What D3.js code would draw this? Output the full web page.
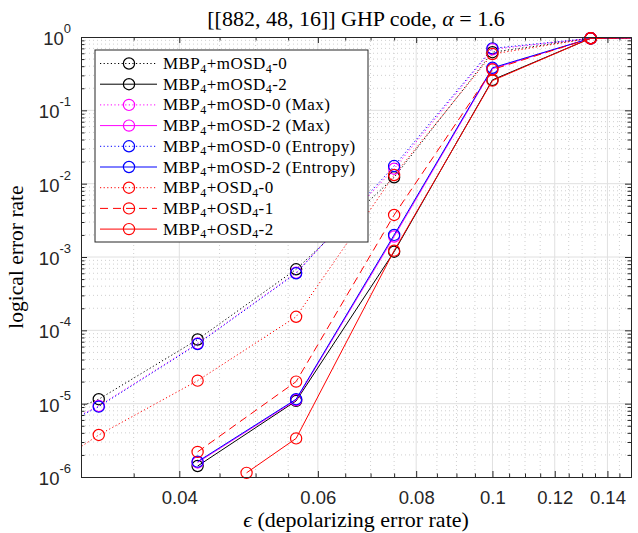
<!DOCTYPE html>
<html>
<head>
<meta charset="utf-8">
<script src="https://cdn.jsdelivr.net/npm/d3@7"></script>
<style>
  html, body { margin: 0; padding: 0; background: #fff; }
  svg { display: block; }
</style>
</head>
<body>
<div id="chart"></div>
<script>
// depolarizing error rates (grid used by most curves)
var epsGrid = [0.0237, 0.0316, 0.0422, 0.0563, 0.0750, 0.1000, 0.1333, 0.1778];
// logical error rates, one list per decoder (null = not simulated)
var mOSD0  = [3.3e-6, 1.15e-5, 7.5e-5, 6.8e-4, 1.22e-2, 0.62, 0.96, 1.0];
var mOSD2  = [null, null, 1.41e-6, 1.09e-5, 1.18e-3, 0.26, 0.96, 1.0];
var maxOSD0 = [2.0e-6, 9.3e-6, 6.6e-5, 6.1e-4, 1.6e-2, 0.68, 0.96, 1.0];
var maxOSD2 = [null, null, 1.58e-6, 1.12e-5, 1.9e-3, 0.37, 0.96, 1.0];
var entOSD0 = [1.9e-6, 9.1e-6, 6.5e-5, 6.0e-4, 1.74e-2, 0.70, 0.96, 1.0];
var entOSD2 = [null, null, 1.62e-6, 1.15e-5, 2.0e-3, 0.38, 0.96, 1.0];
var osd0   = [4.9e-7, 3.74e-6, 2.06e-5, 1.53e-4, 1.31e-2, 0.586, 0.96, 1.0];
var osd1   = [null, null, 2.2e-6, 2.0e-5, 3.74e-3, 0.36, 0.96, 1.0];
// OSD4-2 was run on its own grid
var osd2Eps = [0.0487, 0.0563, 0.0750, 0.1000, 0.1333, 0.1778];
var osd2    = [1.14e-6, 3.36e-6, 1.22e-3, 0.254, 0.96, 1.0];

var xTicks = [0.04, 0.06, 0.08, 0.1, 0.12, 0.14];
var yDecades = [1e-6, 1e-5, 1e-4, 1e-3, 1e-2, 1e-1, 1];
var titleText = "[[882, 48, 16]] GHP code, ";

var W = 638, H = 533;
var margin = { left: 81, right: 7, top: 37, bottom: 56 };
var pw = W - margin.left - margin.right;
var ph = H - margin.top - margin.bottom;

var dash = { dot: "1.2,2.4", solid: null, dash: "8,5" };

// legend label: main text + "4" subscripts
var series = [
  { eps: epsGrid, v: mOSD0,  color: "#000000", style: "dot",   label: [["MBP",""],["4","s"],["+mOSD",""],["4","s"],["-0",""]] },
  { eps: epsGrid, v: mOSD2,  color: "#000000", style: "solid", label: [["MBP",""],["4","s"],["+mOSD",""],["4","s"],["-2",""]] },
  { eps: epsGrid, v: maxOSD0, color: "#ff00ff", style: "dot",   label: [["MBP",""],["4","s"],["+mOSD-0 (Max)",""]] },
  { eps: epsGrid, v: maxOSD2, color: "#ff00ff", style: "solid", label: [["MBP",""],["4","s"],["+mOSD-2 (Max)",""]] },
  { eps: epsGrid, v: entOSD0, color: "#0000ff", style: "dot",   label: [["MBP",""],["4","s"],["+mOSD-0 (Entropy)",""]] },
  { eps: epsGrid, v: entOSD2, color: "#0000ff", style: "solid", label: [["MBP",""],["4","s"],["+mOSD-2 (Entropy)",""]] },
  { eps: epsGrid, v: osd0,   color: "#ff0000", style: "dot",   label: [["MBP",""],["4","s"],["+OSD",""],["4","s"],["-0",""]] },
  { eps: epsGrid, v: osd1,   color: "#ff0000", style: "dash",  label: [["MBP",""],["4","s"],["+OSD",""],["4","s"],["-1",""]] },
  { eps: osd2Eps, v: osd2,   color: "#ff0000", style: "solid", label: [["MBP",""],["4","s"],["+OSD",""],["4","s"],["-2",""]] }
];

var svg = d3.select("#chart").append("svg")
    .attr("width", W).attr("height", H);

var g = svg.append("g")
    .attr("transform", "translate(" + margin.left + "," + margin.top + ")");

var x = d3.scaleLog().domain([0.03, 0.15]).range([0, pw]);
var y = d3.scaleLog().domain([1e-6, 1]).range([ph, 0]);

// minor tick values
var xMinor = d3.range(7, 31).map(function(k) { return k * 0.005; })
    .filter(function(v) { return v > 0.03 && v < 0.15 && xTicks.every(function(t) { return Math.abs(t - v) > 1e-9; }); });
var yMinor = [];
for (var e = -6; e < 0; e++) {
  for (var m = 2; m <= 9; m++) yMinor.push(m * Math.pow(10, e));
}

// grid: minor dotted, major solid
g.append("g").selectAll("line").data(xMinor).enter().append("line")
    .attr("x1", x).attr("x2", x).attr("y1", 0).attr("y2", ph)
    .attr("stroke", "#cfcfcf").attr("stroke-dasharray", "1,3").attr("stroke-width", 1);
g.append("g").selectAll("line").data(yMinor).enter().append("line")
    .attr("y1", y).attr("y2", y).attr("x1", 0).attr("x2", pw)
    .attr("stroke", "#cfcfcf").attr("stroke-dasharray", "1,3").attr("stroke-width", 1);
g.append("g").selectAll("line").data(xTicks).enter().append("line")
    .attr("x1", x).attr("x2", x).attr("y1", 0).attr("y2", ph)
    .attr("stroke", "#e0e0e0").attr("stroke-width", 1);
g.append("g").selectAll("line").data(yDecades.slice(1, 6)).enter().append("line")
    .attr("y1", y).attr("y2", y).attr("x1", 0).attr("x2", pw)
    .attr("stroke", "#e0e0e0").attr("stroke-width", 1);

// data lines, clipped to the axes
svg.append("defs").append("clipPath").attr("id", "plotclip")
  .append("rect").attr("width", pw).attr("height", ph);

var lineGen = d3.line()
    .defined(function(d) { return d.v != null; })
    .x(function(d) { return x(d.e); })
    .y(function(d) { return y(d.v); });

var plotG = g.append("g");
series.forEach(function(s) {
  var pts = s.eps.map(function(e, i) { return { e: e, v: s.v[i] }; });
  plotG.append("path")
      .datum(pts)
      .attr("clip-path", "url(#plotclip)")
      .attr("d", lineGen)
      .attr("fill", "none")
      .attr("stroke", s.color)
      .attr("stroke-width", 1)
      .attr("stroke-dasharray", dash[s.style]);
  // markers are not clipped (MATLAB style), only points inside the x range
  plotG.selectAll(null)
      .data(pts.filter(function(d) { return d.v != null && d.e >= 0.03 && d.e <= 0.15 && d.v >= 1e-6; }))
      .enter().append("circle")
      .attr("cx", function(d) { return x(d.e); })
      .attr("cy", function(d) { return y(d.v); })
      .attr("r", 5.6)
      .attr("fill", "none")
      .attr("stroke", s.color)
      .attr("stroke-width", 1.2);
});

// axes (ticks pointing inwards, on all four sides)
var axisColor = "#262626";
function styleAxis(sel) {
  sel.select(".domain").attr("stroke", axisColor);
  sel.selectAll(".tick line").attr("stroke", axisColor);
  sel.selectAll("text").attr("fill", axisColor)
      .style("font-family", "'Liberation Sans', Arial, Helvetica, sans-serif")
      .style("font-size", "18.5px");
}

var xb = g.append("g").attr("transform", "translate(0," + ph + ")")
    .call(d3.axisBottom(x).tickValues(xTicks).tickSize(-6).tickSizeOuter(0)
      .tickPadding(14).tickFormat(d3.format(".2~f")));
styleAxis(xb);
g.append("g").attr("transform", "translate(0," + ph + ")")
    .call(d3.axisBottom(x).tickValues(xMinor).tickSize(-3.5).tickSizeOuter(0).tickFormat(""))
    .call(styleAxis);
g.append("g")
    .call(d3.axisTop(x).tickValues(xTicks).tickSize(-6).tickSizeOuter(0).tickFormat(""))
    .call(styleAxis);
g.append("g")
    .call(d3.axisTop(x).tickValues(xMinor).tickSize(-3.5).tickSizeOuter(0).tickFormat(""))
    .call(styleAxis);

g.append("g")
    .call(d3.axisLeft(y).tickValues(yDecades).tickSize(-6).tickSizeOuter(0).tickFormat(""))
    .call(styleAxis);
g.append("g")
    .call(d3.axisLeft(y).tickValues(yMinor).tickSize(-3.5).tickSizeOuter(0).tickFormat(""))
    .call(styleAxis);
g.append("g").attr("transform", "translate(" + pw + ",0)")
    .call(d3.axisRight(y).tickValues(yDecades).tickSize(-6).tickSizeOuter(0).tickFormat(""))
    .call(styleAxis);
g.append("g").attr("transform", "translate(" + pw + ",0)")
    .call(d3.axisRight(y).tickValues(yMinor).tickSize(-3.5).tickSizeOuter(0).tickFormat(""))
    .call(styleAxis);

// y tick labels 10^k
var yl = g.append("g").selectAll("text").data(yDecades).enter().append("text")
    .attr("x", -10)
    .attr("y", function(d) { return y(d) + 8; })
    .attr("text-anchor", "end")
    .attr("fill", axisColor)
    .style("font-family", "'Liberation Sans', Arial, Helvetica, sans-serif")
    .style("font-size", "18.5px");
yl.append("tspan").text("10");
yl.append("tspan")
    .attr("dy", -12)
    .style("font-size", "13px")
    .text(function(d) { return String(Math.round(Math.log10(d))); });

var serif = "'Liberation Serif', 'Times New Roman', serif";

// title
var t = svg.append("text")
    .attr("x", margin.left + pw / 2).attr("y", 26)
    .attr("text-anchor", "middle")
    .style("font-family", serif).style("font-size", "22px").attr("fill", "#000");
t.append("tspan").text(titleText);
t.append("tspan").style("font-style", "italic").text("\u03B1");
t.append("tspan").text(" = 1.6");

// axis labels
var xl = svg.append("text")
    .attr("x", margin.left + pw / 2).attr("y", 527)
    .attr("text-anchor", "middle")
    .style("font-family", serif).style("font-size", "22px").attr("fill", "#000");
xl.append("tspan").style("font-style", "italic").text("\u03F5");
xl.append("tspan").text(" (depolarizing error rate)");

svg.append("text")
    .attr("transform", "translate(23," + (margin.top + ph / 2) + ") rotate(-90)")
    .attr("text-anchor", "middle")
    .style("font-family", serif).style("font-size", "21.5px").attr("fill", "#000")
    .text("logical error rate");

// legend
var lg = svg.append("g").attr("transform", "translate(95,50)");
lg.append("rect")
    .attr("width", 273).attr("height", 192)
    .attr("fill", "#fff").attr("stroke", axisColor).attr("stroke-width", 1);

var rowH = 20.7;
series.forEach(function(s, i) {
  var cy = 13.5 + i * rowH;
  lg.append("line")
      .attr("x1", 5).attr("x2", 62).attr("y1", cy).attr("y2", cy)
      .attr("stroke", s.color).attr("stroke-width", 1)
      .attr("stroke-dasharray", dash[s.style]);
  lg.append("circle")
      .attr("cx", 34).attr("cy", cy).attr("r", 5.6)
      .attr("fill", "none").attr("stroke", s.color).attr("stroke-width", 1.2);
  var txt = lg.append("text")
      .attr("x", 68).attr("y", cy + 5.5)
      .style("font-family", serif).style("font-size", "17px")
      .style("letter-spacing", "0.45px").attr("fill", "#000");
  s.label.forEach(function(p) {
    if (p[1] === "s") {
      txt.append("tspan").attr("dy", 3.5).style("font-size", "12px").text(p[0]);
    } else {
      var ts = txt.append("tspan").text(p[0]);
      if (txt.selectAll("tspan").size() > 1) ts.attr("dy", -3.5);
    }
  });
});
</script>
</body>
</html>
